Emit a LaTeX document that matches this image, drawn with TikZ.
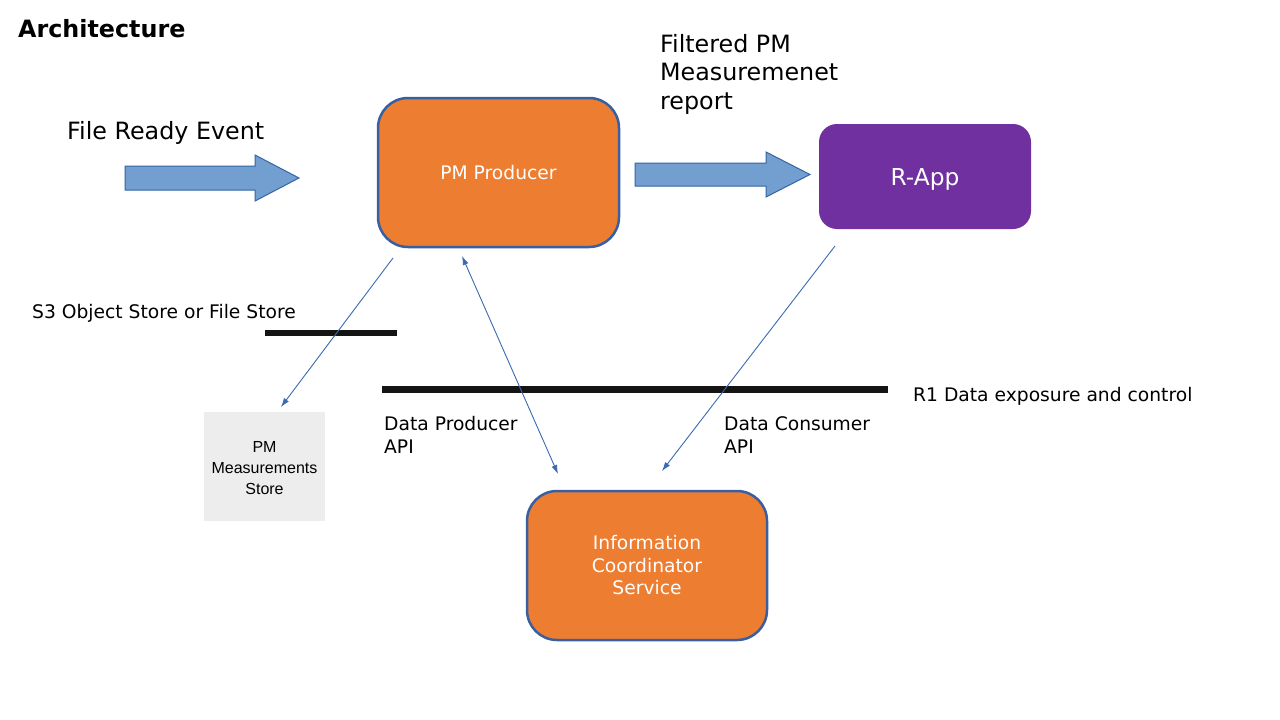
\documentclass[tikz,border=0pt]{standalone}
\usepackage{fontspec}
\setmainfont{DejaVu Sans}
\newfontfamily\arialfont{Liberation Sans}
\usetikzlibrary{arrows.meta}
\definecolor{orangeF}{HTML}{ED7D31}
\definecolor{boxborder}{HTML}{3A5F9E}
\definecolor{purpleF}{HTML}{7030A0}
\definecolor{arrowF}{HTML}{729FCF}
\definecolor{arrowB}{HTML}{3465A4}
\definecolor{connC}{HTML}{3B6AB2}
\definecolor{grayF}{HTML}{EDEDED}
\tikzset{
  orangebox/.style={draw=boxborder, line width=2.5pt, fill=orangeF, rounded corners=30pt,
    text=white, align=center, font=\fontsize{18.7}{22.5}\selectfont},
  purplebox/.style={fill=purpleF, rounded corners=18pt, text=white,
    font=\fontsize{23.3}{28}\selectfont},
  storebox/.style={fill=grayF, align=center, font=\arialfont\fontsize{16}{21}\selectfont},
  bigarrow/.style={draw=arrowB, line width=1pt, fill=arrowF},
  conn/.style={draw=connC, line width=0.9pt, -{Latex[length=9pt,width=6pt]}},
  conn2/.style={draw=connC, line width=0.9pt, {Latex[length=9pt,width=6pt]}-{Latex[length=9pt,width=6pt]}},
  bar/.style={draw=black!92, line width=6.5pt},
  lbl/.style={anchor=north west, inner sep=0pt, align=left, font=\fontsize{18.7}{23}\selectfont},
  biglbl/.style={anchor=north west, inner sep=0pt, align=left, font=\fontsize{23.8}{28.5}\selectfont},
}
\begin{document}
\begin{tikzpicture}[x=1pt,y=-1pt]
\useasboundingbox[fill=white] (0,0) rectangle (1280,720);

% title
\node[anchor=north west, inner sep=0pt, font=\bfseries\fontsize{23.8}{28}\selectfont] (title) at (18,19) {Architecture};

% texts
\node[biglbl] (fre) at (67,121) {File Ready Event};
\node[biglbl] (fpm) at (660,34) {Filtered PM\\Measuremenet\\report};
\node[lbl] (s3) at (32,304) {S3 Object Store or File Store};
\node[lbl] (r1) at (913,387) {R1 Data exposure and control};
\node[lbl] (dp) at (384,416) {Data Producer\\API};
\node[lbl] (dc) at (724,416) {Data Consumer\\API};

% boxes
\node[orangebox, minimum width=241pt, minimum height=149pt] (prod) at (498.5,172.5) {\raisebox{-7.3pt}[0pt][0pt]{PM Producer}};
\node[purplebox, minimum width=212pt, minimum height=105pt] (rapp) at (925,176.5) {\raisebox{-9pt}[0pt][0pt]{R-App}};
\node[orangebox, minimum width=240pt, minimum height=149pt] (ics) at (647,565.5) {Information\\Coordinator\\Service};
\node[storebox, minimum width=121pt, minimum height=109pt] (store) at (264.5,466.5)
  {\raisebox{13.8pt}[0pt][0pt]{\begin{tabular}[t]{@{}c@{}}PM\\Measurements\\Store\end{tabular}}};

% big arrows
\draw[bigarrow] (125,166) -- (255,166) -- (255,155) -- (299,178) -- (255,201) -- (255,190) -- (125,190) -- cycle;
\draw[bigarrow] (635,163) -- (766,163) -- (766,152) -- (810,174.5) -- (766,197) -- (766,186) -- (635,186) -- cycle;

% bars
\draw[bar] (265,333) -- (397,333);
\draw[bar, line width=7pt] (382,389) -- (888,389);

% connectors
\coordinate (prodout) at (393,258);
\coordinate (storein) at (281,407);
\coordinate (prodapi) at (462,256);
\coordinate (icsapi) at (558,474);
\coordinate (rappout) at (835,246);
\coordinate (icsin) at (662,471);
\draw[conn] (prodout) -- (storein);
\draw[conn2] (prodapi) -- (icsapi);
\draw[conn] (rappout) -- (icsin);
\end{tikzpicture}
\end{document}
